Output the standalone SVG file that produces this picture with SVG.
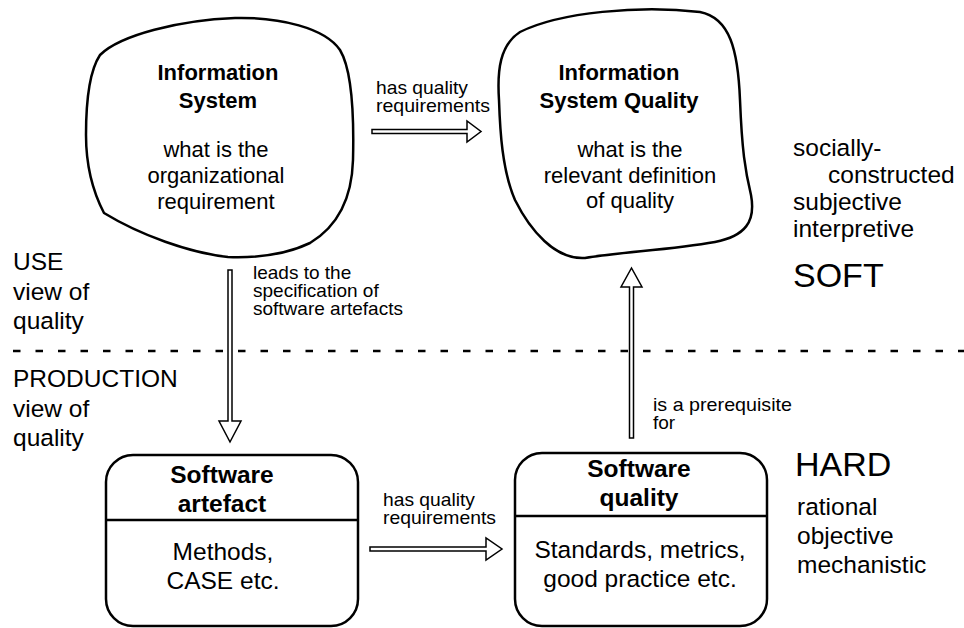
<svg xmlns="http://www.w3.org/2000/svg" width="964" height="628" viewBox="0 0 964 628">
<style>
  text { font-family: "Liberation Sans", Arial, Helvetica, sans-serif; fill: #000; }
  .title { font-weight: bold; font-size: 22px; text-anchor: middle; }
  .body { font-size: 22px; text-anchor: middle; }
  .btitle { font-weight: bold; font-size: 24.5px; text-anchor: middle; }
  .bbody { font-size: 24.5px; text-anchor: middle; }
  .side { font-size: 24.5px; }
  .big { font-size: 34px; }
  .lbl { font-size: 19px; }
  .shape { fill: #fff; stroke: #000; stroke-width: 2.5; stroke-linejoin: round; }
  .arrow { fill: #fff; stroke: #000; stroke-width: 1.5; stroke-linejoin: miter; }
  .divider { stroke: #000; stroke-width: 2.5; }
  .dash { stroke: #000; stroke-width: 2.5; stroke-dasharray: 7.5 15; }
</style>
<rect width="964" height="628" fill="#fff"/>

<line class="dash" x1="13" y1="351" x2="964" y2="351"/>

<g id="connectors">
  <path class="arrow" d="M372,129.5 L467,129.5 L467,121 L481,131.5 L467,142 L467,133.5 L372,133.5 Z"/>
  <path class="arrow" d="M228,270 L228,421 L219,421 L230,442 L241,421 L232,421 L232,270 Z"/>
  <path class="arrow" d="M629.5,438 L629.5,287 L621,287 L631.5,268 L642,287 L633.5,287 L633.5,438 Z"/>
  <path class="arrow" d="M370,547 L486,547 L486,538 L502,549 L486,560 L486,551 L370,551 Z"/>
  <text class="lbl" x="376" y="94" textLength="92" lengthAdjust="spacingAndGlyphs">has quality</text>
  <text class="lbl" x="376" y="112" textLength="114" lengthAdjust="spacingAndGlyphs">requirements</text>
  <text class="lbl" x="253" y="279">leads to the</text>
  <text class="lbl" x="253" y="297">specification of</text>
  <text class="lbl" x="253" y="315">software artefacts</text>
  <text class="lbl" x="653" y="411" textLength="139" lengthAdjust="spacingAndGlyphs">is a prerequisite</text>
  <text class="lbl" x="653" y="429">for</text>
  <text class="lbl" x="383" y="506" textLength="92" lengthAdjust="spacingAndGlyphs">has quality</text>
  <text class="lbl" x="383" y="524" textLength="113" lengthAdjust="spacingAndGlyphs">requirements</text>
</g>

<g id="information-system">
  <path class="shape" d="M100,55 C120,35 180,20 235,18 C280,17 325,28 340,50 C352,70 354,120 353,160 C352,195 340,225 310,243 C285,255 255,258 228,257 C190,253 140,235 104,213 C92,190 86,165 86,135 C86,100 90,70 100,55 Z"/>
  <text class="title" x="218" y="80">Information</text>
  <text class="title" x="218" y="108">System</text>
  <text class="body" x="216" y="157">what is the</text>
  <text class="body" x="216" y="183">organizational</text>
  <text class="body" x="216" y="209">requirement</text>
</g>

<g id="information-system-quality">
  <path class="shape" d="M499,100 C497,70 500,45 520,32 C560,12 640,5 700,12 C730,18 738,50 740,100 C742,150 745,170 751,195 C756,222 745,236 715,242 C670,250 620,252 585,258 C555,260 530,230 515,200 C502,170 500,130 499,100 Z"/>
  <text class="title" x="619" y="80">Information</text>
  <text class="title" x="619" y="108">System Quality</text>
  <text class="body" x="630" y="157">what is the</text>
  <text class="body" x="630" y="183">relevant definition</text>
  <text class="body" x="630" y="208">of quality</text>
</g>

<g id="software-artefact">
  <rect class="shape" x="106" y="455" width="252" height="171" rx="27" ry="27"/>
  <line class="divider" x1="106" y1="520" x2="358" y2="520"/>
  <text class="btitle" x="222" y="483">Software</text>
  <text class="btitle" x="222" y="512">artefact</text>
  <text class="bbody" x="223" y="560">Methods,</text>
  <text class="bbody" x="223" y="589">CASE etc.</text>
</g>

<g id="software-quality">
  <rect class="shape" x="515" y="453" width="252" height="173" rx="27" ry="27"/>
  <line class="divider" x1="515" y1="516" x2="767" y2="516"/>
  <text class="btitle" x="639" y="477">Software</text>
  <text class="btitle" x="639" y="506">quality</text>
  <text class="bbody" x="640" y="558">Standards, metrics,</text>
  <text class="bbody" x="640" y="587">good practice etc.</text>
</g>

<g id="use-view">
  <text class="side" x="13" y="270">USE</text>
  <text class="side" x="13" y="300">view of</text>
  <text class="side" x="13" y="329">quality</text>
</g>

<g id="production-view">
  <text class="side" x="13" y="387">PRODUCTION</text>
  <text class="side" x="13" y="417">view of</text>
  <text class="side" x="13" y="446">quality</text>
</g>

<g id="soft">
  <text class="side" x="793" y="156">socially-</text>
  <text class="side" x="828" y="183">constructed</text>
  <text class="side" x="793" y="210">subjective</text>
  <text class="side" x="793" y="237">interpretive</text>
  <text class="big" x="793" y="287">SOFT</text>
</g>

<g id="hard">
  <text class="big" x="795" y="476">HARD</text>
  <text class="side" x="797" y="515">rational</text>
  <text class="side" x="797" y="544">objective</text>
  <text class="side" x="797" y="573">mechanistic</text>
</g>
</svg>
